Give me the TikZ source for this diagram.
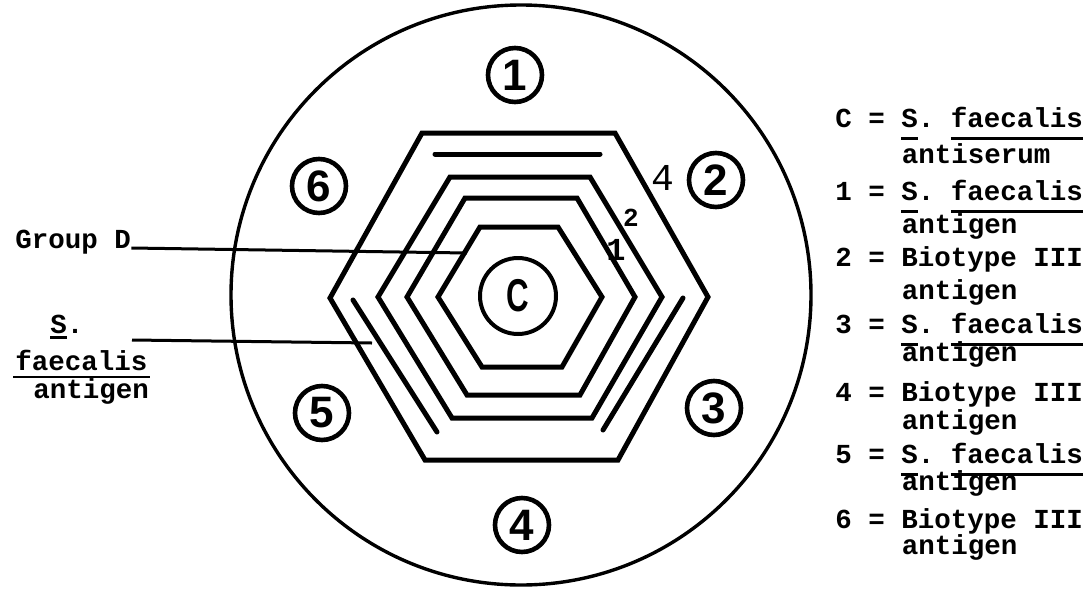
\documentclass[tikz,border=0pt]{standalone}
\usepackage{fontspec}
\setmainfont{Liberation Sans}
\setmonofont{Liberation Mono}
\newcommand\myul[2][6.5]{\setbox0\hbox{#2}\rlap{\rule[-#1pt]{\wd0}{1.3pt}}\box0}
\tikzset{
  well/.style={circle,draw,line width=2.3pt,minimum size=27pt,inner sep=0pt,
    font=\fontsize{22}{22}\selectfont\bfseries},
  ring/.style={line width=2.5pt,line join=miter},
  bar/.style={line width=2.5pt,line cap=round},
  legend/.style={anchor=base west,inner sep=0pt,
    font=\fontsize{13.75}{14}\selectfont\ttfamily\bfseries},
  lead/.style={line width=1.5pt},
  hexlbl/.style={inner sep=0pt,font=\ttfamily\bfseries},
}
\begin{document}
\begin{tikzpicture}[x=0.5pt,y=-0.5pt]
\useasboundingbox (0,0) rectangle (1092,595);
% plate
\draw[line width=1.7pt] (521,295) circle[radius=145pt];
% hexagonal troughs
\draw[ring] (422,133) -- (615,133) -- (708,297) -- (618,460) -- (425,460) -- (330,298) -- cycle;
\draw[ring] (450,177) -- (590,177) -- (662,297) -- (592,418) -- (452,418) -- (378,297) -- cycle;
\draw[ring] (465,198) -- (577,198) -- (635,297) -- (580,395) -- (467,395) -- (407,297) -- cycle;
\draw[ring] (480,227) -- (558,227) -- (602,297) -- (562,367) -- (482,367) -- (438,297) -- cycle;
% partial troughs
\draw[bar] (435,154) -- (600,154);
\draw[bar] (353,300) -- (437,432);
\draw[bar] (683,298) -- (603,430);
% centre well
\node[circle,draw,line width=2pt,minimum size=38pt,inner sep=0pt] (C) at (518,296)
  {\scalebox{0.68}[1]{\fontsize{23}{23}\selectfont\bfseries C}};
% outer wells
\node[well] (w1) at (515,75) {1};
\node[well] (w2) at (716,180) {2};
\node[well] (w3) at (714,408) {3};
\node[well] (w4) at (522,525) {4};
\node[well] (w5) at (322,413) {5};
\node[well] (w6) at (319,186) {6};
% trough labels
\node[hexlbl,font=\fontsize{19}{19}\selectfont\ttfamily] (t4) at (663,178) {4};
\node[hexlbl,font=\fontsize{13}{13}\selectfont\ttfamily\bfseries] (t2) at (631,218) {2};
\node[hexlbl,font=\fontsize{16}{16}\selectfont\ttfamily\bfseries] (t1) at (616,250) {1};
% left labels
\node[legend] (gd) at (15,248) {Group D};
\coordinate (gdEnd) at (467,253);
\draw[lead] (gd.base east) -- (gdEnd);
\node[legend] (sfS) at (50,333) {\myul[3]{S}.};
\node[legend] (sfF) at (15,370) {faecalis};
\node[legend] (sfA) at (33,398) {antigen};
\coordinate (ulA) at (13,377);
\coordinate (ulB) at (150,377);
\draw[line width=1.4pt] (ulA) -- (ulB);
\coordinate (sfStart) at (132,340);
\coordinate (sfEnd) at (372,343);
\draw[lead] (sfStart) -- (sfEnd);
% legend
\node[legend] (kC) at (835,127) {C = \myul{S}. \myul{faecalis}};
\node[legend] (kCb) at (901.5,163) {antiserum};
\node[legend] (k1) at (835,200) {1 = \myul{S}. \myul{faecalis}};
\node[legend] (k1b) at (901.5,233) {antigen};
\node[legend] (k2) at (835,266) {2 = Biotype III};
\node[legend] (k2b) at (901.5,299) {antigen};
\node[legend] (k3) at (835,333) {3 = \myul{S}. \myul{faecalis}};
\node[legend] (k3b) at (901.5,361) {antigen};
\node[legend] (k4) at (835,401) {4 = Biotype III};
\node[legend] (k4b) at (901.5,429) {antigen};
\node[legend] (k5) at (835,463) {5 = \myul{S}. \myul{faecalis}};
\node[legend] (k5b) at (901.5,490) {antigen};
\node[legend] (k6) at (835,528) {6 = Biotype III};
\node[legend] (k6b) at (901.5,554) {antigen};
\end{tikzpicture}
\end{document}
